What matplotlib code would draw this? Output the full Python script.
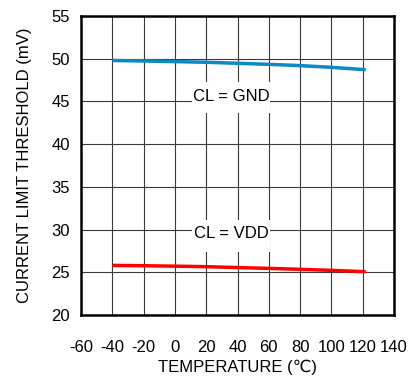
import numpy as np
import matplotlib
matplotlib.use('Agg')
import matplotlib.pyplot as plt
from matplotlib.patches import Rectangle

plt.rcParams['font.family'] = ['Liberation Sans', 'DejaVu Sans']
plt.rcParams['axes.unicode_minus'] = False

# data
temp = [-40, -20, 0, 20, 40, 60, 80, 100, 122]
cl_gnd = [49.78, 49.72, 49.65, 49.57, 49.45, 49.33, 49.18, 48.98, 48.70]
cl_vdd = [25.82, 25.78, 25.73, 25.67, 25.57, 25.47, 25.36, 25.24, 25.08]
xticks = list(range(-60, 141, 20))
yticks = list(range(20, 56, 5))

fig = plt.figure(figsize=(4.12, 3.77), dpi=100)
ax = fig.add_axes([0.197, 0.164, 0.759, 0.794])

ax.plot(temp, cl_gnd, color='#0a88c8', lw=2.5, solid_capstyle='butt', zorder=3)
ax.plot(temp, cl_vdd, color='#ff0000', lw=2.5, solid_capstyle='butt', zorder=3)

ax.set_xlim(-60, 140)
ax.set_ylim(20, 55)
ax.set_xticks(xticks)
ax.set_yticks(yticks)
ax.grid(True, color='#3a3a3a', lw=0.8)
ax.tick_params(length=0, labelsize=12, colors='black')
ax.tick_params(axis='x', pad=18)
ax.tick_params(axis='y', pad=8)
for s in ax.spines.values():
    s.set_linewidth(1.8)

# white label boxes that cut the grid
for x0, y0, h, txt, ty in [(11, 43.6, 3.7, 'CL = GND', 45.6),
                           (11, 27.4, 3.7, 'CL = VDD', 29.5)]:
    ax.add_patch(Rectangle((x0, y0), 50, h, facecolor='white', edgecolor='none', zorder=2.5))
    ax.text(36, ty, txt, ha='center', va='center', fontsize=12, zorder=4)

ax.set_xlabel('TEMPERATURE (℃)', fontsize=12, labelpad=3)
ax.set_ylabel('CURRENT LIMIT THRESHOLD (mV)', fontsize=12, labelpad=14)

fig.savefig('out.png', dpi=100)
